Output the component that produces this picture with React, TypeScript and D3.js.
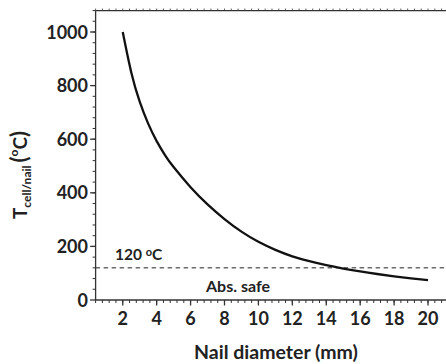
import React from "react";
import * as d3 from "d3";

const diameters = [2, 2.5, 3, 3.5, 4, 4.5, 5, 6, 7, 8, 9, 10, 11, 12, 13, 14, 15, 16, 17, 18, 19, 20];
const temps = [1000, 850, 740, 658, 593, 540, 496, 421, 357, 302, 255, 217, 187, 163, 145, 130, 117.5, 106.5, 97, 88.5, 81, 74.5];
const xTicks = [2, 4, 6, 8, 10, 12, 14, 16, 18, 20];
const yTicks = [0, 200, 400, 600, 800, 1000];
const safeLimit = 120;

const W = 446;
const H = 364;
const FONT = "Lato, 'Open Sans', sans-serif";
const AX = "#333";
const TXT = "#222";

export default function App() {
  const x = d3.scaleLinear().domain([0.4, 21.2]).range([95.6, 95.6 + 20.8 * 16.96]);
  const y = d3.scaleLinear().domain([0, 1080]).range([300, 300 - 1080 * 0.268]);
  const data = diameters.map((d, i) => [d, temps[i]] as [number, number]);
  const line = d3
    .line<[number, number]>()
    .x((d) => x(d[0]))
    .y((d) => y(d[1]))
    .curve(d3.curveNatural);

  const xMinor = d3.range(0.4, 21.2, 0.4).map((v) => Math.round(v * 10) / 10);
  const yMinor = d3.range(40, 1081, 40);
  const x0 = x.range()[0];
  const x1 = x.range()[1];
  const y0 = y.range()[0];
  const y1 = y.range()[1];

  return (
    <svg
      width={W}
      height={H}
      style={{ position: "absolute", left: 0, top: 0, background: "#fff" }}
      fontFamily={FONT}
    >
      <rect x={0} y={0} width={W} height={H} fill="#fff" />
      {/* dashed limit line */}
      <line
        x1={x0}
        x2={x1}
        y1={y(safeLimit)}
        y2={y(safeLimit)}
        stroke="#222"
        strokeWidth={1}
        strokeDasharray="4.5,3.5"
      />
      {/* curve */}
      <path d={line(data) || ""} fill="none" stroke="#111" strokeWidth={2.3} />

      {/* axes frame */}
      <line x1={x0} x2={x1} y1={y0} y2={y0} stroke={AX} strokeWidth={1.3} />
      <line x1={x0} x2={x1} y1={y1} y2={y1} stroke={AX} strokeWidth={1.3} />
      <line x1={x0} x2={x0} y1={y0} y2={y1} stroke={AX} strokeWidth={1.3} />

      {/* x minor ticks */}
      {xMinor.map((v) => (
        <g key={"xm" + v}>
          <line x1={x(v)} x2={x(v)} y1={y0} y2={y0 + 3} stroke={AX} strokeWidth={1} />
          <line x1={x(v)} x2={x(v)} y1={y1} y2={y1 - 2} stroke={AX} strokeWidth={0.8} />
        </g>
      ))}
      {xTicks.map((v) => (
        <g key={"x" + v}>
          <line x1={x(v)} x2={x(v)} y1={y0} y2={y0 + 5.5} stroke={AX} strokeWidth={1.3} />
          <text
            x={x(v)}
            y={325}
            textAnchor="middle"
            fontSize={18}
            fontWeight="bold"
            fill={TXT}
          >
            {v}
          </text>
        </g>
      ))}
      {yMinor.map((v) => (
        <line key={"ym" + v} x1={x0} x2={x0 - 3} y1={y(v)} y2={y(v)} stroke={AX} strokeWidth={1} />
      ))}
      {yTicks.map((v) => (
        <g key={"y" + v}>
          <line x1={x0} x2={x0 - 5.5} y1={y(v)} y2={y(v)} stroke={AX} strokeWidth={1.3} />
          <text
            x={88}
            y={y(v) + 6.5}
            textAnchor="end"
            fontSize={18}
            fontWeight="bold"
            fill={TXT}
          >
            {v}
          </text>
        </g>
      ))}

      {/* annotations */}
      <text x={115} y={260} fontSize={15.5} fontWeight="bold" fill={TXT}>
        120 <tspan fontSize={11} dy={-4}>o</tspan>
        <tspan dy={4}>C</tspan>
      </text>
      <text x={238} y={291.5} fontSize={16} fontWeight="bold" fill={TXT} textAnchor="middle">
        Abs. safe
      </text>

      {/* x label */}
      <text x={276} y={359} fontSize={19.5} fontWeight="bold" fill={TXT} textAnchor="middle">
        Nail diameter (mm)
      </text>

      {/* y label */}
      <text
        transform={`translate(27,175) rotate(-90)`}
        textAnchor="middle"
        fontSize={19}
        fontWeight="bold"
        fill={TXT}
      >
        T<tspan fontSize={12} dy={4}>cell/nail</tspan>
        <tspan dy={-4} dx={3} fontSize={22}>(</tspan>
        <tspan fontSize={12} dy={-9}>o</tspan>
        <tspan dy={9}>C</tspan>
        <tspan fontSize={22}>)</tspan>
      </text>
    </svg>
  );
}
